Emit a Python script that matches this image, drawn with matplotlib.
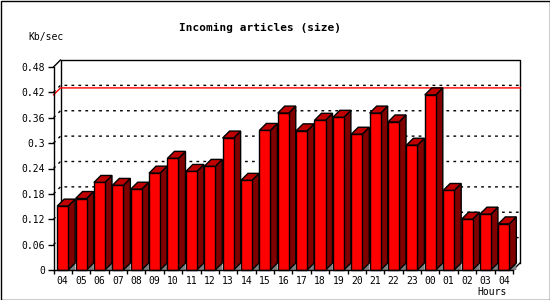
import matplotlib
matplotlib.use('Agg')
import matplotlib.pyplot as plt
from matplotlib.patches import Polygon, Rectangle

hours = ['04', '05', '06', '07', '08', '09', '10', '11', '12', '13', '14', '15', '16',
         '17', '18', '19', '20', '21', '22', '23', '00', '01', '02', '03', '04']
kbsec = [0.151, 0.169, 0.207, 0.200, 0.191, 0.229, 0.264, 0.233, 0.245, 0.312, 0.212, 0.330, 0.371,
         0.329, 0.354, 0.361, 0.321, 0.371, 0.350, 0.295, 0.414, 0.188, 0.120, 0.132, 0.109]
yticks = [0, 0.06, 0.12, 0.18, 0.24, 0.3, 0.36, 0.42, 0.48]
ytick_labels = ['0', '0.06', '0.12', '0.18', '0.24', '0.3', '0.36', '0.42', '0.48']

W, H = 550, 300
fig = plt.figure(figsize=(W / 100, H / 100), dpi=100)
fig.patch.set_facecolor('white')
fig.add_artist(Rectangle((0.5 / W, 0.5 / H), 1 - 1 / W, 1 - 1 / H, transform=fig.transFigure,
                         fill=False, edgecolor='black', lw=1))

# front plane of the plot, in pixels
left, right, top, bottom = 53.5, 513, 67, 270
ax = fig.add_axes([left / W, (H - bottom) / H, (right - left) / W, (bottom - top) / H])
ax.set_facecolor('none')

xlo, xhi = -0.5, len(hours) - 0.5
ymax = 0.48
ax.set_xlim(xlo, xhi)
ax.set_ylim(0, ymax)

depth = 7  # px
dx = depth * (xhi - xlo) / (right - left)
dy = depth * ymax / (bottom - top)

mono = 'DejaVu Sans Mono'
line_kw = dict(clip_on=False, lw=1)

# back plane
ax.plot([xlo + dx, xlo + dx, xhi + dx, xhi + dx], [dy, ymax + dy, ymax + dy, dy],
        color='black', zorder=1, **line_kw)
ax.plot([xlo, xlo + dx], [ymax, ymax + dy], color='black', zorder=1, **line_kw)
ax.plot([xhi, xhi + dx], [0, dy], color='black', zorder=1, **line_kw)

# dotted grid
for v in yticks[1:-1]:
    ax.plot([xlo, xlo + dx, xhi + dx], [v, v + dy, v + dy], color='black',
            linestyle=(0, (2, 3)), zorder=1, **line_kw)

# max line
m = max(kbsec)
ax.plot([xlo, xlo + dx, xhi + dx], [m, m + dy, m + dy], color='#ff0000', zorder=2, **line_kw)

# 3d bars
bw = 0.6
for i, v in enumerate(kbsec):
    x0, x1 = i - bw / 2, i + bw / 2
    ax.add_patch(Polygon([(x1, 0), (x1 + dx, dy), (x1 + dx, 0)], closed=True,
                         facecolor='#808080', edgecolor='none', zorder=3, clip_on=False))
    ax.add_patch(Polygon([(x1, 0), (x1, v), (x1 + dx, v + dy), (x1 + dx, dy)], closed=True,
                         facecolor='#800000', edgecolor='black', lw=1, zorder=3, clip_on=False))
    ax.add_patch(Polygon([(x0, v), (x0 + dx, v + dy), (x1 + dx, v + dy), (x1, v)], closed=True,
                         facecolor='#c00000', edgecolor='black', lw=1, zorder=3, clip_on=False))
    ax.bar(i, v, width=bw, color='#ff0000', edgecolor='black', lw=1, zorder=4, clip_on=False)

for s in ['top', 'right']:
    ax.spines[s].set_visible(False)
for s in ['left', 'bottom']:
    ax.spines[s].set_linewidth(1)
    ax.spines[s].set_zorder(5)

ax.set_yticks(yticks)
ax.set_yticklabels(ytick_labels, fontfamily=mono, fontsize=7)
ax.tick_params(axis='y', length=4, width=1, pad=2)

ax.set_xticks(range(len(hours)))
ax.set_xticklabels(hours, fontfamily=mono, fontsize=7)
ax.set_xticks([k + 0.5 for k in range(-1, len(hours))], minor=True)
ax.tick_params(axis='x', which='major', length=0, pad=4)
ax.tick_params(axis='x', which='minor', length=3, width=1)

fig.text(260 / W, 1 - 27.5 / H, 'Incoming articles (size)', ha='center', va='center',
         fontfamily=mono, fontweight='bold', fontsize=8)
fig.text(28 / W, 1 - 37 / H, 'Kb/sec', ha='left', va='center', fontfamily=mono, fontsize=7)
fig.text(507 / W, 1 - 292 / H, 'Hours', ha='right', va='center', fontfamily=mono, fontsize=7)

fig.savefig('out.png', dpi=100)
